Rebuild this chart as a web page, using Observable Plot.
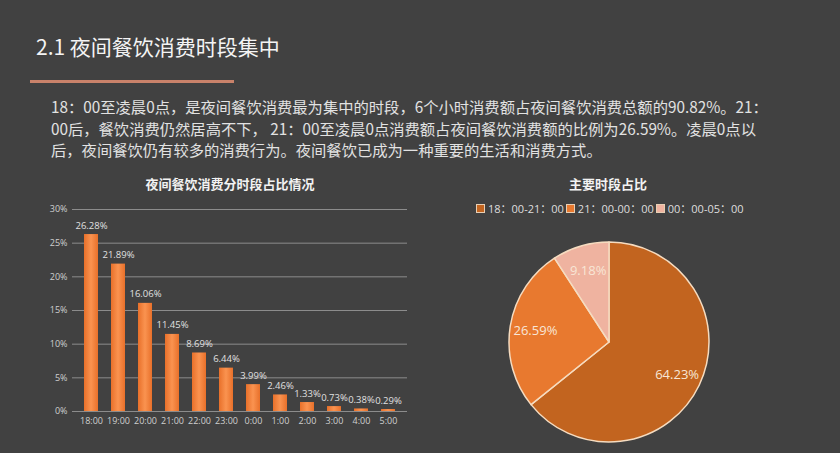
<!DOCTYPE html>
<html>
<head>
<meta charset="utf-8">
<script src="https://cdn.jsdelivr.net/npm/d3@7"></script>
<script src="https://cdn.jsdelivr.net/npm/@observablehq/plot@0.6"></script>
<style>
  html, body { margin: 0; padding: 0; }
  body { width: 840px; height: 453px; background: #414141; position: relative; overflow: hidden;
         font-family: "Noto Sans CJK SC", "Noto Sans", sans-serif; }
  .abs { position: absolute; }
  #title { left: 36px; top: 31px; font-size: 21px; color: #f4f4f4; white-space: nowrap; }
  #rule { left: 30px; top: 80px; width: 204px; height: 3px; background: #c9826a; }
  #para { left: 51px; top: 96px; font-size: 15.3px; line-height: 21.5px; color: #e2e2e2; white-space: nowrap; }
  .ctitle { font-size: 13px; font-weight: bold; color: #f2f2f2; white-space: nowrap; transform: translateX(-50%); }
  #legend { left: 476px; top: 200px; font-size: 11px; color: #dedede; white-space: nowrap; font-family: "Open Sans", "Noto Sans CJK SC", sans-serif; }
  #legend span.sw { display: inline-block; width: 7px; height: 7px; border: 1px solid #e8cfb4; margin: 0 3px 0 0; vertical-align: 0px; }
  #legend span.it { margin-right: 2px; }
  #bars { left: 40px; top: 195px; }
  #pie { left: 499px; top: 232px; }
</style>
</head>
<body>
<div id="title" class="abs">2.1 夜间餐饮消费时段集中</div>
<div id="rule" class="abs"></div>
<div id="para" class="abs"></div>
<div class="abs ctitle" style="left:230px; top:174px;">夜间餐饮消费分时段占比情况</div>
<div class="abs ctitle" style="left:608px; top:174px;">主要时段占比</div>
<div id="legend" class="abs"></div>
<div id="bars" class="abs"></div>
<div id="pie" class="abs"></div>
<script>
// ---- data ----
const paragraphLines = [
  "18：00至凌晨0点，是夜间餐饮消费最为集中的时段，6个小时消费额占夜间餐饮消费总额的90.82%。21：",
  "00后，餐饮消费仍然居高不下， 21：00至凌晨0点消费额占夜间餐饮消费额的比例为26.59%。凌晨0点以",
  "后，夜间餐饮仍有较多的消费行为。夜间餐饮已成为一种重要的生活和消费方式。"
];
const hours = ["18:00","19:00","20:00","21:00","22:00","23:00","0:00","1:00","2:00","3:00","4:00","5:00"];
const shares = [26.28, 21.89, 16.06, 11.45, 8.69, 6.44, 3.99, 2.46, 1.33, 0.73, 0.38, 0.29];
const yTicks = [0, 5, 10, 15, 20, 25, 30];
const pieLabels = ["18：00-21：00", "21：00-00：00", "00：00-05：00"];
const pieValues = [64.23, 26.59, 9.18];
const pieColors = ["#c2641f", "#e8792f", "#efb3a0"];

// ---- text ----
document.getElementById("para").innerHTML = paragraphLines.map(l => `<div>${l}</div>`).join("");

// ---- bar chart ----
const barRows = hours.map((h, i) => ({hour: h, share: shares[i]}));
const gradDefs = () => {
  const defs = d3.create("svg:defs");
  const g = defs.append("linearGradient").attr("id", "barGrad").attr("x1", "0").attr("x2", "1").attr("y1", "0").attr("y2", "0");
  g.append("stop").attr("offset", "0%").attr("stop-color", "#e8702a");
  g.append("stop").attr("offset", "50%").attr("stop-color", "#fa9350");
  g.append("stop").attr("offset", "100%").attr("stop-color", "#e8702a");
  return defs.node();
};
const bars = Plot.plot({
  width: 375, height: 240,
  marginLeft: 32, marginRight: 8, marginTop: 14, marginBottom: 24,
  style: {background: "transparent", color: "#cfcfcf", fontSize: "9px", fontFamily: "'Open Sans', 'Noto Sans', sans-serif"},
  x: {domain: hours, paddingInner: 0.5, paddingOuter: 0.25, label: null, tickSize: 0, tickPadding: 6},
  y: {domain: [0, 30], ticks: yTicks, tickFormat: d => d + "%", label: null, tickSize: 0, tickPadding: 5},
  marks: [
    gradDefs,
    Plot.ruleY(yTicks, {stroke: "#8c8c8c", strokeWidth: 1}),
    Plot.barY(barRows, {x: "hour", y: "share", fill: "url(#barGrad)"}),
    Plot.text(barRows, {x: "hour", y: "share", text: d => d.share.toFixed(2) + "%", dy: -9, fill: "#e0e0e0", fontSize: 9.5})
  ]
});
document.getElementById("bars").appendChild(bars);

// ---- pie chart ----
const pieRows = pieLabels.map((l, i) => ({label: l, value: pieValues[i]}));
const colorScale = (Plot.scale
  ? Plot.scale({color: {type: "ordinal", domain: pieLabels, range: pieColors}})
  : null);
const colorOf = colorScale ? (v => colorScale.apply(v)) : d3.scaleOrdinal(pieLabels, pieColors);

document.getElementById("legend").innerHTML = pieLabels.map(l =>
  `<span class="it"><span class="sw" style="background:${colorOf(l)}"></span>${l}</span>`).join("");

const R = 100, W = 220, H = 221;
const arcs = d3.pie().sort(null).value(d => d.value)(pieRows);
const arcGen = d3.arc().innerRadius(0).outerRadius(R);
const labelArc = d3.arc().innerRadius(R * 0.75).outerRadius(R * 0.75);
const labelRows = arcs.map(a => {
  const [cx, cy] = labelArc.centroid(a);
  return {cx, cy, text: a.data.value.toFixed(2) + "%"};
});
const pie = Plot.plot({
  width: W, height: H, margin: 0,
  style: {background: "transparent", overflow: "visible"},
  x: {domain: [-110, 110], range: [0, 220], axis: null},
  y: {domain: [110, -110], range: [220, 0], axis: null},
  marks: [
    () => {
      const g = d3.create("svg:g").attr("transform", `translate(110,110)`);
      g.selectAll("path").data(arcs).join("path")
        .attr("d", arcGen)
        .attr("fill", d => colorOf(d.data.label))
        .attr("stroke", "#f6dcc0")
        .attr("stroke-width", 1.5)
        .attr("stroke-linejoin", "round");
      return g.node();
    },
    Plot.text(labelRows, {x: "cx", y: "cy", text: "text", fill: "#f8e6d6", fontSize: 13, fontFamily: "'Open Sans', 'Noto Sans', sans-serif"})
  ]
});
document.getElementById("pie").appendChild(pie);
</script>
</body>
</html>
